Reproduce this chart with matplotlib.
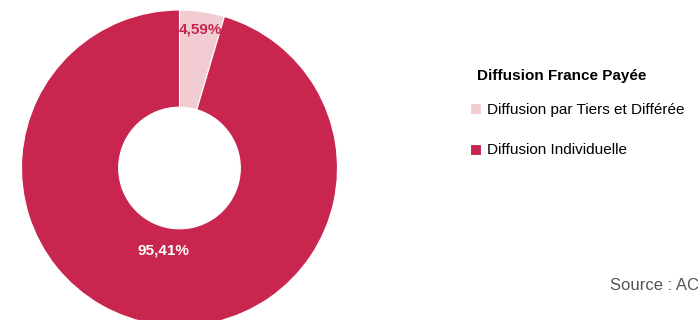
import matplotlib.pyplot as plt
from matplotlib import font_manager

labels = ["Diffusion par Tiers et Différée", "Diffusion Individuelle"]
values = [4.59, 95.41]
value_labels = ["4,59%", "95,41%"]
colors = ["#F1CDD3", "#C8254F"]
legend_title = "Diffusion France Payée"
source_text = "Source : ACPM"

names = {f.name for f in font_manager.fontManager.ttflist}
font = "Liberation Sans Narrow" if "Liberation Sans Narrow" in names else "Liberation Sans"
plt.rcParams["font.family"] = [font, "DejaVu Sans"]


def main():
    fig = plt.figure(figsize=(6.98, 3.2), dpi=100)
    # pie area: centre ~ (179, 168) px, radius ~158 px
    ax = fig.add_axes([21.5 / 698, -6 / 320, 316 / 698, 316 / 320])
    wedges, _ = ax.pie(values, colors=colors, startangle=90, counterclock=False,
                       radius=1.0, wedgeprops=dict(width=0.615, edgecolor="white", linewidth=0.8))
    ax.set_xlim(-1, 1)
    ax.set_ylim(-1, 1)
    ax.axis("off")

    ax.text(0.13, 0.875, value_labels[0], color=colors[1], fontsize=11,
            fontweight="bold", ha="center", va="center")
    ax.text(-0.10, -0.52, value_labels[1], color="white", fontsize=11,
            fontweight="bold", ha="center", va="center")

    # title is indented a bit relative to the legend squares
    fig.text(477 / 698, 1 - 76 / 320, legend_title, fontsize=11, fontweight="bold",
             ha="left", va="center")
    fig.legend(wedges, labels, loc="upper left",
               bbox_to_anchor=(456 / 698, 1 - 89 / 320), frameon=False,
               fontsize=11, handlelength=0.75, handleheight=0.75, handletextpad=0.35,
               labelspacing=1.75)

    fig.text(610 / 698, 1 - 285 / 320, source_text, color="#555555", fontsize=12,
             ha="left", va="center")

    fig.savefig("out.png", dpi=100)
    plt.close(fig)


if __name__ == "__main__":
    main()
